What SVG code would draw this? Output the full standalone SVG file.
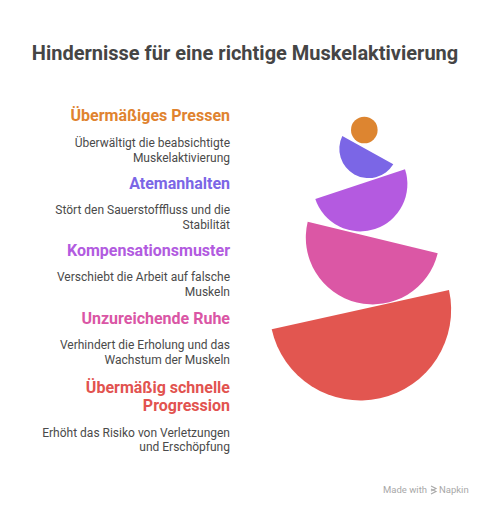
<svg xmlns="http://www.w3.org/2000/svg" width="490" height="512" viewBox="0 0 490 512">
<style>
text{font-family:Roboto,"Liberation Sans",sans-serif}
.t{font-size:20px;font-weight:700;fill:#454545}
.h{font-size:16px;font-weight:700;text-anchor:end}
.d{font-size:12px;fill:#4a4a4a;text-anchor:end}
.w{font-size:9.5px;fill:#a8a8a8}
</style>
<rect width="490" height="512" fill="#fff"/>
<text class="t" x="245" y="60" text-anchor="middle">Hindernisse für eine richtige Muskelaktivierung</text>
<g id="n1">
<text class="h" x="230" y="121" fill="#E0832F">Übermäßiges Pressen</text>
<text class="d" x="230" y="147">Überwältigt die beabsichtigte</text>
<text class="d" x="230" y="161.5">Muskelaktivierung</text>
<circle cx="364.3" cy="130" r="13.3" fill="#DD8530"/>
</g>
<g id="n2">
<text class="h" x="230" y="189" fill="#7B66E6">Atemanhalten</text>
<text class="d" x="230" y="213.5">Stört den Sauerstofffluss und die</text>
<text class="d" x="230" y="228.5">Stabilität</text>
<path d="M342.3 136 L393.3 164.3 A29.2 29.2 0 0 1 342.3 136 Z" fill="#7B66E6"/>
</g>
<g id="n3">
<text class="h" x="230" y="256" fill="#B25BE0">Kompensationsmuster</text>
<text class="d" x="230" y="281">Verschiebt die Arbeit auf falsche</text>
<text class="d" x="230" y="295.5">Muskeln</text>
<path d="M315.3 199 L405 169.3 A47.2 47.2 0 0 1 315.3 199 Z" fill="#B45AE0"/>
</g>
<g id="n4">
<text class="h" x="230" y="324" fill="#DA56A5">Unzureichende Ruhe</text>
<text class="d" x="230" y="349">Verhindert die Erholung und das</text>
<text class="d" x="230" y="363.5">Wachstum der Muskeln</text>
<path d="M307.7 221.7 L437.7 253.3 A66.6 66.6 0 0 1 307.7 221.7 Z" fill="#DB57A5"/>
</g>
<g id="n5">
<text class="h" x="230" y="392.5" fill="#E2534F">Übermäßig schnelle</text>
<text class="h" x="230" y="411" fill="#E2534F">Progression</text>
<text class="d" x="230" y="436.5">Erhöht das Risiko von Verletzungen</text>
<text class="d" x="230" y="451">und Erschöpfung</text>
<path d="M271.7 329.3 L449 290 A90.8 90.8 0 0 1 271.7 329.3 Z" fill="#E25650"/>
</g>
<g id="connectors"></g>
<g id="footer">
<text class="w" x="383" y="493">Made with</text>
<path d="M431 486 l5 2.5 l-5 2.5 M431 489 l5 2.5 l-5 2.5" stroke="#a8a8a8" stroke-width="1.1" fill="none"/>
<text class="w" x="439" y="493">Napkin</text>
</g>
</svg>
